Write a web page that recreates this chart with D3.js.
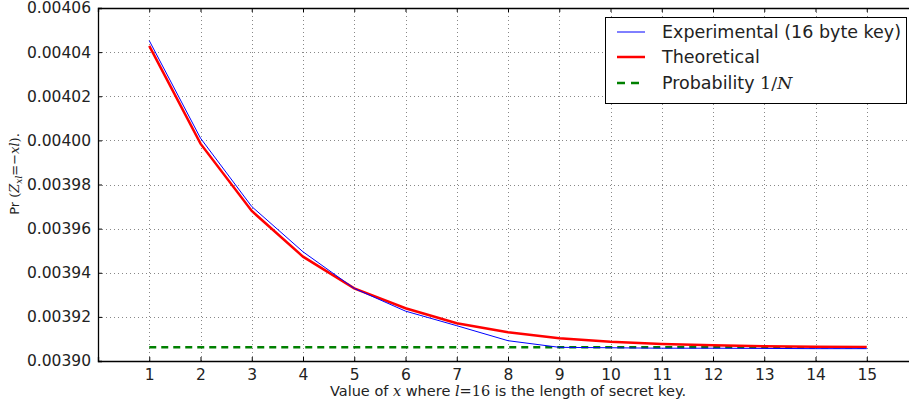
<!DOCTYPE html>
<html>
<head>
<meta charset="utf-8">
<script src="https://cdnjs.cloudflare.com/ajax/libs/d3/7.8.5/d3.min.js"></script>
<style>
  body { margin: 0; background: #fff; }
  svg { display: block; font-family: "DejaVu Sans", sans-serif; }
  .math { font-family: "DejaVu Serif", serif; font-style: italic; }
  .mathup { font-family: "DejaVu Serif", serif; }
</style>
</head>
<body>
<div id="chart"></div>
<script>
// values
const xs = [1, 2, 3, 4, 5, 6, 7, 8, 9, 10, 11, 12, 13, 14, 15]
const experimental = [0.0040452, 0.0040010, 0.0039700, 0.0039495, 0.0039329, 0.0039226, 0.0039160,
  0.0039092, 0.0039062, 0.0039060, 0.0039058, 0.0039058, 0.0039057, 0.0039056, 0.0039056]
const theoretical = [0.0040428, 0.0039985, 0.0039680, 0.0039473, 0.0039329, 0.0039239, 0.0039171,
  0.0039130, 0.0039103, 0.0039087, 0.0039077, 0.0039071, 0.0039067, 0.0039065, 0.0039064]
const uniform = xs.map(() => 1 / 256)
const yTicks = [0.00390, 0.00392, 0.00394, 0.00396, 0.00398, 0.00400, 0.00402, 0.00404, 0.00406]

const width = 909, height = 404
const plotLeft = 98, plotTop = 8, plotRight = 918, plotBottom = 361

const svg = d3.select('#chart')
  .append('svg')
  .attr('width', width)
  .attr('height', height)

const x = d3.scaleLinear().domain([0, 16]).range([plotLeft, plotRight])
const y = d3.scaleLinear().domain([0.00390, 0.00406]).range([plotBottom, plotTop])

// grid
const grid = svg.append('g')
grid.selectAll('line.gx')
  .data(xs)
  .enter()
    .append('line')
    .attr('x1', d => Math.round(x(d)) + 0.5).attr('x2', d => Math.round(x(d)) + 0.5)
    .attr('y1', plotTop).attr('y2', plotBottom)
    .attr('stroke', '#888')
    .attr('stroke-width', 1)
    .attr('stroke-dasharray', '1,3')
grid.selectAll('line.gy')
  .data(yTicks)
  .enter()
    .append('line')
    .attr('x1', plotLeft).attr('x2', plotRight)
    .attr('y1', d => Math.round(y(d)) + 0.5).attr('y2', d => Math.round(y(d)) + 0.5)
    .attr('stroke', '#888')
    .attr('stroke-width', 1)
    .attr('stroke-dasharray', '1,3')

// axes (ticks inward, mirrored)
const tickFmt = d3.format('.5f')
const axisB = svg.append('g')
  .attr('transform', `translate(0,${plotBottom})`)
  .call(d3.axisBottom(x).tickValues(xs).tickSize(-4).tickPadding(8))
const axisT = svg.append('g')
  .attr('transform', `translate(0,${plotTop})`)
  .call(d3.axisTop(x).tickValues(xs).tickSize(-4).tickFormat(''))
const axisL = svg.append('g')
  .attr('transform', `translate(${plotLeft},0)`)
  .call(d3.axisLeft(y).tickValues(yTicks).tickSize(-4).tickPadding(7).tickFormat(tickFmt))
const axisR = svg.append('g')
  .attr('transform', `translate(${plotRight},0)`)
  .call(d3.axisRight(y).tickValues(yTicks).tickSize(-4).tickFormat(''))

;[axisB, axisT, axisL, axisR].forEach(g => {
  g.select('.domain').attr('stroke', '#000').attr('stroke-width', 1.3)
  g.selectAll('.tick line').attr('stroke', '#000')
  g.selectAll('text')
    .attr('font-family', '"DejaVu Sans", sans-serif')
    .attr('font-size', 15.5)
    .attr('fill', '#222')
})

// series
const line = d3.line().x((d, i) => x(xs[i])).y(d => y(d))

svg.append('path')
  .attr('d', line(uniform))
  .attr('fill', 'none')
  .attr('stroke', '#008000')
  .attr('stroke-width', 2.5)
  .attr('stroke-dasharray', '7,5')

svg.append('path')
  .attr('d', line(theoretical))
  .attr('fill', 'none')
  .attr('stroke', '#ff0000')
  .attr('stroke-width', 2.5)

svg.append('path')
  .attr('d', line(experimental))
  .attr('fill', 'none')
  .attr('stroke', '#0000ff')
  .attr('stroke-width', 1)

// legend
const legend = svg.append('g')
legend.append('rect')
  .attr('x', 605.5).attr('y', 17.5)
  .attr('width', 301).attr('height', 86)
  .attr('fill', '#fff')
  .attr('stroke', '#000')
  .attr('stroke-width', 1)

const entries = [
  { color: '#0000ff', w: 1, dash: null, y: 32 },
  { color: '#ff0000', w: 2.5, dash: null, y: 57 },
  { color: '#008000', w: 2.5, dash: '8,6', y: 83 }
]
legend.selectAll('line.lg')
  .data(entries)
  .enter()
    .append('line')
    .attr('x1', 617).attr('x2', 645)
    .attr('y1', d => d.y).attr('y2', d => d.y)
    .attr('stroke', d => d.color)
    .attr('stroke-width', d => d.w)
    .attr('stroke-dasharray', d => d.dash)

const legendText = legend.append('g').attr('font-size', 17.5).attr('fill', '#222')
legendText.append('text').attr('x', 662).attr('y', 38).text('Experimental (16 byte key)')
legendText.append('text').attr('x', 662).attr('y', 63).text('Theoretical')
const prob = legendText.append('text').attr('x', 662).attr('y', 89)
prob.append('tspan').text('Probability ')
prob.append('tspan').attr('class', 'mathup').text('1/')
prob.append('tspan').attr('class', 'math').text('N')

// axis labels
const xl = svg.append('text')
  .attr('x', (plotLeft + plotRight) / 2).attr('y', 396)
  .attr('text-anchor', 'middle')
  .attr('font-size', 14.5)
  .attr('fill', '#222')
xl.append('tspan').text('Value of ')
xl.append('tspan').attr('class', 'math').text('x')
xl.append('tspan').text(' where ')
xl.append('tspan').attr('class', 'math').text('l')
xl.append('tspan').attr('class', 'mathup').text('=16')
xl.append('tspan').text(' is the length of secret key.')

const yl = svg.append('text')
  .attr('transform', 'translate(19,174) rotate(-90)')
  .attr('text-anchor', 'middle')
  .attr('font-size', 13)
  .attr('fill', '#222')
yl.append('tspan').text('Pr ')
yl.append('tspan').attr('class', 'mathup').text('(')
yl.append('tspan').attr('class', 'math').text('Z')
yl.append('tspan').attr('class', 'math').attr('font-size', 9).attr('dy', 3).text('xl')
yl.append('tspan').attr('class', 'mathup').attr('dy', -3).text('=−')
yl.append('tspan').attr('class', 'math').text('xl')
yl.append('tspan').attr('class', 'mathup').text(').')
</script>
</body>
</html>
